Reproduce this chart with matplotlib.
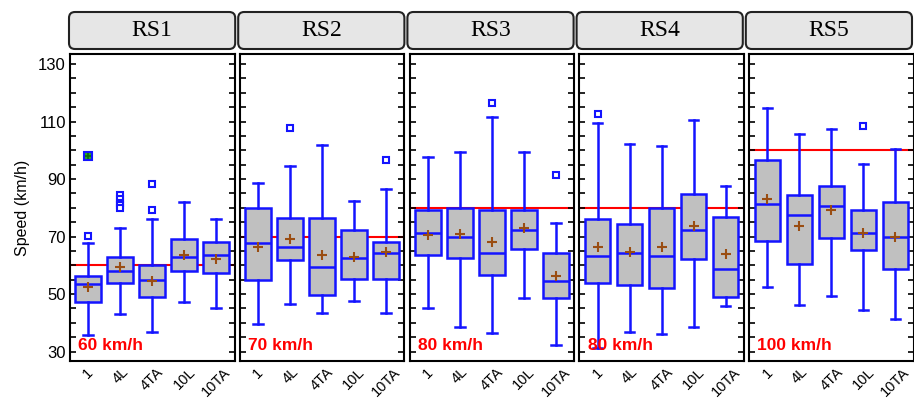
import numpy as np
import matplotlib
matplotlib.use("Agg")
import matplotlib.pyplot as plt
from matplotlib.patches import FancyBboxPatch
from matplotlib.transforms import IdentityTransform

# sites, groups and posted limits
sites = ['RS1', 'RS2', 'RS3', 'RS4', 'RS5']
groups = ['1', '4L', '4TA', '10L', '10TA']
limits = [60, 70, 80, 80, 100]
limit_labels = ['60 km/h', '70 km/h', '80 km/h', '80 km/h', '100 km/h']

# box statistics per site (one value per group)
whis_lo = [[35.7, 43.1, 36.9, 47.3, 45.0],
           [39.5, 46.4, 43.5, 47.6, 43.5],
           [45.2, 38.6, 36.3, 48.5, 32.4],
           [31.1, 36.9, 36.0, 38.4, 46.0],
           [52.4, 46.1, 49.3, 44.4, 41.3]]
q1 = [[47.3, 53.9, 48.8, 58.0, 57.2],
      [54.9, 61.7, 49.5, 55.3, 55.3],
      [63.5, 62.5, 56.5, 65.7, 48.5],
      [53.9, 53.0, 52.2, 62.3, 48.8],
      [68.3, 60.5, 69.5, 65.4, 58.7]]
medians = [[53.4, 58.0, 54.8, 62.9, 63.6],
           [67.6, 66.5, 59.3, 62.6, 64.4],
           [71.4, 69.7, 64.4, 72.4, 54.4],
           [63.1, 64.2, 63.1, 72.1, 58.6],
           [81.3, 77.4, 80.6, 71.2, 70.0]]
q3 = [[56.1, 62.8, 60.1, 69.1, 68.2],
      [80.1, 76.3, 76.3, 72.3, 68.2],
      [79.2, 79.9, 79.4, 79.4, 64.4],
      [76.0, 74.5, 80.0, 84.7, 76.9],
      [96.6, 84.4, 87.6, 79.4, 82.1]]
whis_hi = [[67.8, 73.0, 76.1, 81.9, 76.1],
           [88.5, 94.5, 101.8, 82.2, 86.4],
           [97.7, 99.4, 111.6, 99.4, 74.7],
           [109.6, 102.3, 101.5, 110.5, 87.5],
           [114.8, 105.5, 107.5, 95.2, 100.5]]
means = [[52.4, 59.4, 54.6, 63.6, 62.1],
         [66.5, 69.1, 63.5, 63.0, 64.6],
         [70.5, 70.8, 68.0, 72.8, 56.2],
         [66.3, 64.5, 66.3, 73.7, 64.0],
         [83.2, 73.5, 79.4, 71.4, 70.0]]
outliers = [[[70.2], [84.4, 83.0, 81.8, 80.8, 80.0], [79.2, 88.3], [], []],
            [[], [107.6], [], [], [96.7]],
            [[], [], [116.5], [], [91.4]],
            [[112.6], [], [], [], []],
            [[], [], [], [108.4], []]]
far_outliers = [[[98.1], [], [], [], []],
                [[], [], [], [], []],
                [[], [], [], [], []],
                [[], [], [], [], []],
                [[], [], [], [], []]]

BLUE = '#1414ff'
BROWN = '#9a4d12'
W, H = 914, 400

plt.rcParams['font.family'] = ['Liberation Sans', 'DejaVu Sans']
fig = plt.figure(figsize=(W / 100, H / 100), dpi=100)

pan_left, pan_w, pan_gap = 70, 164.5, 5.3
pan_top, pan_bot = 54, 361

for i, site in enumerate(sites):
    x0 = pan_left + i * (pan_w + pan_gap)
    ax = fig.add_axes([x0 / W, (H - pan_bot) / H, pan_w / W, (pan_bot - pan_top) / H])

    stats = []
    for j, g in enumerate(groups):
        stats.append({'label': g, 'whislo': whis_lo[i][j], 'q1': q1[i][j],
                      'med': medians[i][j], 'q3': q3[i][j], 'whishi': whis_hi[i][j],
                      'mean': means[i][j], 'fliers': outliers[i][j]})
    pos = np.arange(1, len(groups) + 1)
    ax.bxp(stats, positions=pos, widths=0.8, capwidths=0.3, showmeans=True,
           patch_artist=True,
           boxprops=dict(facecolor='#c0c0c0', edgecolor=BLUE, linewidth=1.8),
           whiskerprops=dict(color=BLUE, linewidth=1.8),
           capprops=dict(color=BLUE, linewidth=1.8),
           medianprops=dict(color=BLUE, linewidth=1.8),
           meanprops=dict(marker='+', markeredgecolor=BROWN, markersize=7,
                          markeredgewidth=1.5, zorder=4),
           flierprops=dict(marker='s', markerfacecolor='white', markeredgecolor=BLUE,
                           markersize=5, markeredgewidth=1.5))
    for j in range(len(groups)):
        fo = far_outliers[i][j]
        if fo:
            ax.plot([pos[j]] * len(fo), fo, 's', ms=6, mfc='#22aa22', mec=BLUE, mew=1.5)
            ax.plot([pos[j]] * len(fo), fo, '+', ms=5, mec='#116611', mew=1.2)

    ax.axhline(limits[i], color='red', linewidth=1.5, zorder=1)
    ax.text(0.05, 0.025, limit_labels[i], transform=ax.transAxes, color='red',
            fontsize=12.5, fontweight='bold', ha='left', va='bottom')

    ax.set_xlim(0.43, 5.57)
    ax.set_ylim(26.7, 133.5)
    ax.set_yticks(np.arange(30, 131, 20))
    ax.set_yticks(np.arange(30, 131, 5), minor=True)
    ax.tick_params(axis='y', which='both', direction='in', left=True, right=True,
                   length=4, width=1.2, labelsize=12, pad=3)
    if i > 0:
        ax.tick_params(axis='y', labelleft=False)
    ax.set_xticks(pos)
    ax.set_xticklabels(groups, rotation=45, ha='center', fontsize=10.5)
    ax.tick_params(axis='x', length=0, pad=3)
    for s in ax.spines.values():
        s.set_linewidth(1.5)
    if i == 0:
        ax.set_ylabel('Speed (km/h)', fontsize=11.5, labelpad=6)

# strip headers (rounded boxes in pixel coordinates)
strip_left, strip_w, strip_step = 69, 166.2, 169.2
strip_top, strip_bot = 12, 49
for i, site in enumerate(sites):
    sx = strip_left + i * strip_step
    box = FancyBboxPatch((sx, H - strip_bot), strip_w, strip_bot - strip_top,
                         boxstyle='round,pad=0,rounding_size=6',
                         transform=IdentityTransform(), facecolor='#e6e6e6',
                         edgecolor='#222222', linewidth=1.5)
    fig.patches.append(box)
    fig.text((sx + strip_w / 2) / W, (H - (strip_top + strip_bot) / 2) / H, site,
             ha='center', va='center', fontsize=17, family='Liberation Serif')

fig.savefig('out.png', dpi=100)
